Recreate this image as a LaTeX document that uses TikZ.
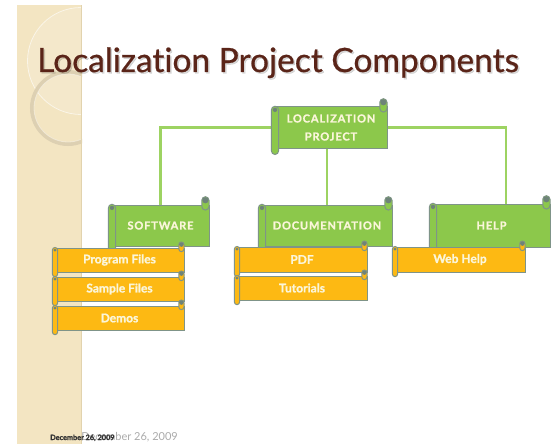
\documentclass[tikz,border=0pt]{standalone}
\usepackage{fontspec}
\setmainfont{Lato}[Ligatures=NoCommon, BoldFont={Lato Bold}]
\newfontfamily\capsfont{Lato Bold}[LetterSpace=8, FakeBold=1.2]
\newfontfamily\boldfont{Lato Bold}[FakeBold=1.2]
\newfontfamily\headfont{Lato}[Ligatures=NoCommon, FakeBold=0.6]
\usetikzlibrary{calc}

\definecolor{stripe}{HTML}{F3E5C2}
\definecolor{stripeedge}{HTML}{E2D3AE}
\definecolor{ringtone}{HTML}{DDD0B2}
\definecolor{titlebrown}{HTML}{5A2418}
\definecolor{leafgreen}{HTML}{8CC84B}
\definecolor{linegreen}{HTML}{9DD362}
\definecolor{amber}{HTML}{FDB913}
\definecolor{rim}{HTML}{7F9488}
\definecolor{curl}{HTML}{6E8379}
\definecolor{labeltext}{HTML}{FBF6DA}

\pgfdeclarelayer{links}
\pgfsetlayers{links,main}

\tikzset{
  link/.style={draw=linegreen, line width=2.2pt},
  rimline/.style={draw=rim, line width=1pt},
  glabel/.style={text=labeltext, font=\capsfont\fontsize{11}{18}\selectfont, align=center},
  olabel/.style={text=labeltext, font=\boldfont\fontsize{12}{13}\selectfont},
}

% Horizontal scroll: #1 name, #2 left, #3 top, #4 right, #5 bottom,
% #6 fill, #7 roll radius, #8 label style, #9 label
\newcommand\scrollbox[9]{%
  \fill[#6] (#2,#3) rectangle (#4,#5);
  \draw[rimline] (#2,#3) rectangle (#4,#5);
  % roll at the top right
  \filldraw[rimline, fill=#6, rounded corners=#7pt]
    ({#4-2*#7},{#3-2.3*#7}) rectangle (#4,{#3+1.4*#7});
  \fill[curl] ({#4-#7},{#3-1.3*#7}) circle[radius={0.85*#7pt}];
  % roll at the bottom left
  \filldraw[rimline, fill=#6, rounded corners=#7pt]
    ({#2-#7},{#3-0.2*#7}) rectangle ({#2+#7},{#5+1.8*#7});
  \fill[curl] (#2,{#3+0.8*#7}) circle[radius={0.6*#7pt}];
  \node[#8, inner sep=0pt, minimum width={(#4-#2)*1pt}, minimum height={(#5-#3)*1pt}]
    (#1) at ({(#2+#4)/2},{(#3+#5)/2}) {#9};
}

\begin{document}
\begin{tikzpicture}[x=1pt, y=-1pt]
  \useasboundingbox (0,0) rectangle (552,444);
  \begin{pgfonlayer}{links}
    \fill[white] (0,0) rectangle (552,444);
  \end{pgfonlayer}

  % date line, partly hidden by the side band
  \node[anchor=base east, text=black!33, font=\fontsize{11}{12}\selectfont, inner sep=0pt]
    (datefaint) at (178,440) {December 26, 2009};

  % side band with its faint rings
  \fill[stripe] (17,5) rectangle (82,444);
  \begin{scope}
    \clip (17,5) rectangle (82,444);
    \fill[white, opacity=0.15] (81,61) circle[radius=53.5pt];
    \draw[white, opacity=0.6, line width=0.8pt] (81,61) circle[radius=53.5pt];
    \draw[ringtone, line width=4pt] (68,108) circle[radius=36pt];
    \draw[white, opacity=0.4, line width=0.8pt] (68,108) circle[radius=34pt];
    \fill[stripeedge] (80.5,5) rectangle (82,444);
  \end{scope}

  \node[anchor=base west, text=black!80, font=\boldfont\fontsize{7.3}{8}\selectfont, inner sep=0pt]
    (datedark) at (50,440) {December 26, 2009};

  % heading
  \node[anchor=base west, text=black, opacity=0.15, font=\headfont\fontsize{33.5}{38}\selectfont, inner sep=0pt]
    at (38.5,73.5) {Localization Project Components};
  \node[anchor=base west, text=titlebrown, font=\headfont\fontsize{33.5}{38}\selectfont, inner sep=0pt]
    (title) at (37,72) {Localization Project Components};

  % top-level topics
  \scrollbox{root}{275}{107}{387}{148}{leafgreen}{3.6}{glabel}{LOCALIZATION\\PROJECT}
  \scrollbox{soft}{112}{205}{209}{246}{leafgreen}{3.6}{glabel}{SOFTWARE}
  \scrollbox{doc}{262}{205}{392}{246}{leafgreen}{3.6}{glabel}{DOCUMENTATION}
  \scrollbox{help}{433}{204}{550}{247}{leafgreen}{3.6}{glabel}{HELP}

  % items under each topic
  \scrollbox{prog}{55}{248}{184}{272}{amber}{2.6}{olabel}{Program Files}
  \scrollbox{sample}{55}{277}{184}{301}{amber}{2.6}{olabel}{Sample Files}
  \scrollbox{demos}{55}{306}{184}{330}{amber}{2.6}{olabel}{Demos}
  \scrollbox{pdf}{237}{247}{367}{272}{amber}{2.6}{olabel}{PDF}
  \scrollbox{tut}{237}{276}{367}{300}{amber}{2.6}{olabel}{Tutorials}
  \scrollbox{web}{395}{247}{525}{272}{amber}{2.6}{olabel}{Web Help}

  % connectors behind the boxes
  \coordinate (helpjoin) at (506,127.5);
  \begin{pgfonlayer}{links}
    \draw[link] (root.west) -| (soft.north);
    \draw[link] (doc.north |- root.south) -- (doc.north);
    \draw[link] (root.east) -- (helpjoin) -- (helpjoin |- help.north);
  \end{pgfonlayer}
\end{tikzpicture}
\end{document}
